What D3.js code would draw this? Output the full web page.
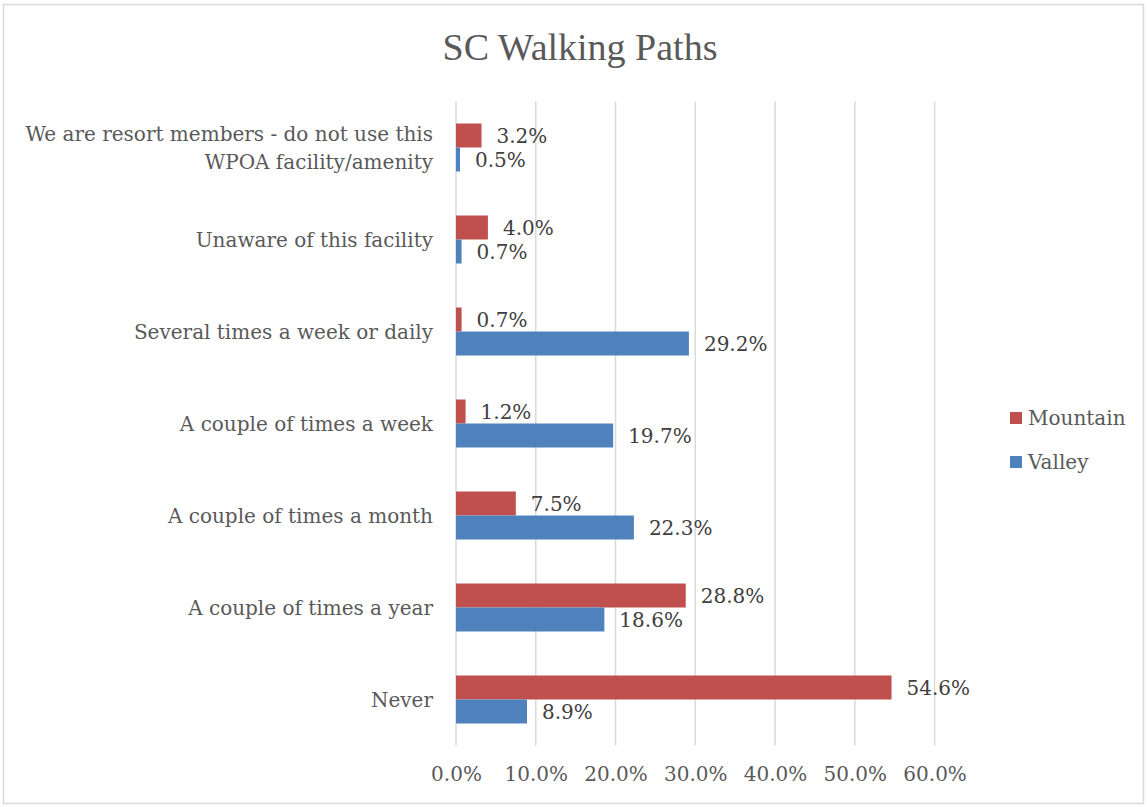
<!DOCTYPE html>
<html><head><meta charset="utf-8">
<script src="https://cdn.jsdelivr.net/npm/d3@7"></script>
<style>html,body{margin:0;padding:0;background:#fff;}svg{display:block;}</style>
</head><body>
<svg id="chart" width="1148" height="807"></svg>
<script>
const categories = [
  "We are resort members - do not use this|WPOA facility/amenity",
  "Unaware of this facility",
  "Several times a week or daily",
  "A couple of times a week",
  "A couple of times a month",
  "A couple of times a year",
  "Never"
];
const seriesNames = ["Mountain", "Valley"];
const mountain = [3.2, 4.0, 0.7, 1.2, 7.5, 28.8, 54.6];
const valley = [0.5, 0.7, 29.2, 19.7, 22.3, 18.6, 8.9];
const xTicks = [0, 10, 20, 30, 40, 50, 60];
const colors = ["#C0504D", "#4F81BD"];

const FONT = "'DejaVu Serif', 'Liberation Serif', serif";
const TFONT = "'Liberation Serif', serif";
const svg = d3.select("#chart");

svg.append("rect").attr("x", 3.5).attr("y", 4.5).attr("width", 1140).attr("height", 799)
  .attr("fill", "#fff").attr("stroke", "#d9d9d9").attr("stroke-width", 1.5);

svg.append("text").attr("x", 580).attr("y", 60).attr("text-anchor", "middle")
  .attr("font-family", TFONT).attr("font-size", 38).attr("fill", "#595959")
  .text("SC Walking Paths");

const top0 = 101.5, bot0 = 745.5;
const x = d3.scaleLinear().domain([0, 60]).range([456, 934.6]);
const y = d3.scaleBand().domain(d3.range(categories.length)).range([top0, bot0]).padding(0);
const barH = 24;

// gridlines
svg.append("g").selectAll("line").data(xTicks).join("line")
  .attr("x1", d => x(d)).attr("x2", d => x(d)).attr("y1", top0).attr("y2", bot0)
  .attr("stroke", "#d9d9d9").attr("stroke-width", 1.5);

// x tick labels
const xAxis = d3.axisBottom(x).tickValues(xTicks).tickSize(0).tickPadding(0)
  .tickFormat(d => d.toFixed(1) + "%");
const gx = svg.append("g").attr("transform", "translate(0,767)").call(xAxis);
gx.select(".domain").remove();
gx.selectAll("text").attr("font-family", FONT).attr("font-size", 20).attr("fill", "#595959")
  .attr("dy", "0.71em");

// category labels
const catG = svg.append("g");
categories.forEach((c, i) => {
  const lines = c.split("|");
  const cy = y(i) + y.bandwidth() / 2;
  const lh = 28;
  const t = catG.append("text").attr("text-anchor", "end").attr("font-family", FONT)
    .attr("font-size", 20).attr("fill", "#595959");
  lines.forEach((l, k) => {
    t.append("tspan").attr("x", 433)
      .attr("y", cy + (k - (lines.length - 1) / 2) * lh).attr("dy", "0.35em").text(l);
  });
});

// bars
const data = [mountain, valley];
data.forEach((vals, s) => {
  const g = svg.append("g");
  g.selectAll("rect").data(vals).join("rect")
    .attr("x", x(0)).attr("width", d => x(d) - x(0))
    .attr("y", (d, i) => y(i) + y.bandwidth() / 2 - barH + s * barH)
    .attr("height", barH).attr("fill", colors[s]);
  g.selectAll("text").data(vals).join("text")
    .attr("x", d => x(d) + 15)
    .attr("y", (d, i) => y(i) + y.bandwidth() / 2 - barH / 2 + s * barH)
    .attr("dy", "0.35em")
    .attr("font-family", FONT).attr("font-size", 20).attr("fill", "#404040")
    .text(d => d.toFixed(1) + "%");
});

// legend
const leg = svg.append("g");
seriesNames.forEach((n, i) => {
  const ly = 418 + i * 44;
  leg.append("rect").attr("x", 1010).attr("y", ly - 6).attr("width", 12).attr("height", 12).attr("fill", colors[i]);
  leg.append("text").attr("x", 1028).attr("y", ly).attr("dy", "0.35em")
    .attr("font-family", FONT).attr("font-size", 20).attr("fill", "#595959").text(n);
});
</script>
</body></html>
